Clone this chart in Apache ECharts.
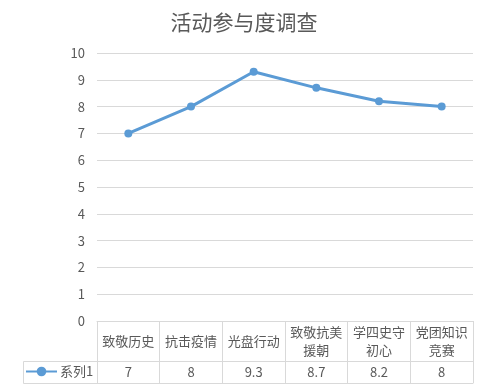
<!DOCTYPE html>
<html>
<head>
<meta charset="utf-8">
<script src="https://cdn.jsdelivr.net/npm/echarts@6/dist/echarts.min.js"></script>
<style>html,body{margin:0;padding:0;background:#fff}#c{width:488px;height:389px}</style>
</head>
<body>
<div id="c"></div>
<script>
const titleText = '活动参与度调查';
const seriesName = '系列1';
const categories = ['致敬历史', '抗击疫情', '光盘行动', '致敬抗美\n援朝', '学四史守\n初心', '党团知识\n竞赛'];
const values = [7, 8, 9.3, 8.7, 8.2, 8];
const yTicks = { min: 0, max: 10, interval: 1 };

const FONT = '"Noto Sans CJK SC", "Noto Sans", sans-serif';
const TXT = '#595959';
const GRIDC = '#d9d9d9';
const L = { left: 97, right: 15, top: 53, bottom: 68, headerH: 40, rowH: 22, rowHeadLeft: 23 };
const axisY = 389 - L.bottom;

const chart = echarts.init(document.getElementById('c'), null, { renderer: 'canvas' });
chart.setOption({
  animation: false,
  backgroundColor: '#fff',
  textStyle: { fontFamily: FONT },
  title: {
    text: titleText, left: 'center', top: 7,
    textStyle: { fontSize: 21, fontWeight: 'normal', color: TXT, fontFamily: FONT }
  },
  legend: {
    data: [seriesName], left: L.rowHeadLeft + 2, top: axisY + L.headerH + 4,
    itemWidth: 31, itemHeight: 12, padding: 0,
    textStyle: { fontSize: 13, color: TXT, fontFamily: FONT, padding: [0, 0, 0, -2] }
  },
  grid: { left: L.left, right: L.right, top: L.top, bottom: L.bottom, containLabel: false },
  xAxis: [
    {
      type: 'category', data: categories, boundaryGap: true, position: 'bottom',
      axisLine: { show: true, lineStyle: { color: GRIDC, width: 1 } },
      axisTick: { show: true, interval: 0, length: L.headerH + L.rowH, lineStyle: { color: GRIDC, width: 1 } },
      axisLabel: { interval: 0, margin: L.headerH / 2, verticalAlign: 'middle', lineHeight: 18,
        fontSize: 13, color: TXT, fontFamily: FONT }
    },
    {
      type: 'category', data: categories, boundaryGap: true, position: 'bottom', offset: L.headerH,
      axisLine: { show: true, lineStyle: { color: GRIDC, width: 1 } },
      axisTick: { show: false },
      axisLabel: { interval: 0, margin: L.rowH / 2, verticalAlign: 'middle',
        fontSize: 13, color: TXT, fontFamily: FONT,
        formatter: (v, i) => String(values[i]) }
    },
    {
      type: 'category', data: categories, boundaryGap: true, position: 'bottom', offset: L.headerH + L.rowH,
      axisLine: { show: true, lineStyle: { color: GRIDC, width: 1 } },
      axisTick: { show: false }, axisLabel: { show: false }
    }
  ],
  yAxis: {
    type: 'value', min: yTicks.min, max: yTicks.max, interval: yTicks.interval,
    axisLine: { show: false }, axisTick: { show: false },
    axisLabel: { margin: 12, fontSize: 13, color: TXT, fontFamily: FONT },
    splitLine: { lineStyle: { color: GRIDC, width: 1 } }
  },
  graphic: [{
    type: 'rect', silent: true,
    shape: { x: L.rowHeadLeft + 0.5, y: axisY + L.headerH + 0.5, width: L.left - L.rowHeadLeft, height: L.rowH },
    style: { fill: 'none', stroke: GRIDC, lineWidth: 1 }
  }],
  series: [{
    name: seriesName, type: 'line', data: values, xAxisIndex: 0,
    symbol: 'circle', symbolSize: 8, showSymbol: true,
    lineStyle: { color: '#5b9bd5', width: 3 },
    itemStyle: { color: '#5b9bd5' }
  }]
});
</script>
</body>
</html>
